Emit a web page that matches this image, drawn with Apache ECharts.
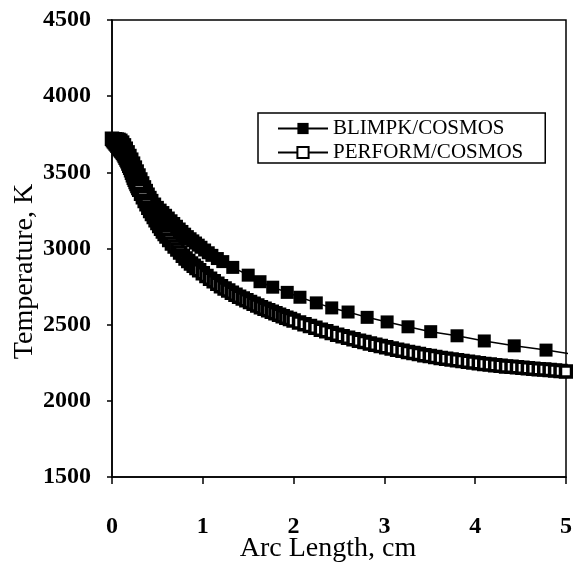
<!DOCTYPE html>
<html>
<head>
<meta charset="utf-8">
<script src="https://cdn.jsdelivr.net/npm/echarts@6/dist/echarts.min.js"></script>
<style>
html,body{margin:0;padding:0;background:#fff;}
#chart{width:573px;height:564px;}
</style>
</head>
<body>
<div id="chart"></div>
<script>
// ---- data ----
const seriesNames = ['BLIMPK/COSMOS', 'PERFORM/COSMOS'];
const xTicks = [0, 1, 2, 3, 4, 5];
const yTicks = [1500, 2000, 2500, 3000, 3500, 4000, 4500];

const blimpkX = [0.00,0.02,0.04,0.06,0.08,0.10,0.12,0.14,0.16,0.18,0.20,0.22,0.24,0.26,0.28,0.30,0.32,0.34,0.36,0.38,0.40,0.42,0.44,0.47,0.50,0.53,0.56,0.59,0.62,0.65,0.68,0.71,0.74,0.77,0.80,0.83,0.86,0.89,0.92,0.95,0.98,1.02,1.06,1.10,1.16,1.22,1.33,1.50,1.63,1.77,1.93,2.07,2.25,2.42,2.60,2.81,3.03,3.26,3.51,3.80,4.10,4.43,4.78,5.15];
const blimpkT = [3720,3722,3722,3720,3718,3712,3700,3682,3660,3636,3612,3588,3562,3536,3510,3484,3458,3432,3406,3382,3358,3336,3316,3292,3270,3252,3236,3218,3200,3182,3164,3146,3128,3112,3094,3078,3064,3050,3036,3022,3008,2990,2972,2955,2934,2914,2876,2825,2782,2746,2712,2680,2643,2610,2583,2548,2518,2486,2454,2427,2393,2361,2333,2298];

const performX = [0.00,0.01,0.02,0.03,0.04,0.05,0.06,0.07,0.08,0.09,0.10,0.11,0.12,0.13,0.14,0.15,0.16,0.17,0.18,0.19,0.20,0.21,0.22,0.23,0.24,0.25,0.26,0.27,0.28,0.29,0.30,0.32,0.34,0.36,0.38,0.40,0.42,0.44,0.46,0.48,0.50,0.52,0.54,0.56,0.58,0.60,0.63,0.66,0.69,0.72,0.75,0.78,0.81,0.84,0.87,0.90,0.93,0.96,1.00,
  1.04,1.08,1.12,1.16,1.20,1.24,1.28,1.32,1.36,1.40,1.44,1.48,1.52,1.56,1.60,1.64,1.68,1.72,1.76,1.80,1.84,1.88,1.92,1.96,2.00,
  2.06,2.12,2.18,2.24,2.30,2.36,2.42,2.48,2.54,2.60,2.66,2.72,2.78,2.84,2.90,2.96,3.02,3.08,3.14,3.20,3.26,3.32,3.38,3.44,3.50,3.56,3.62,3.68,3.74,3.80,3.86,3.92,3.98,4.04,4.10,4.16,4.22,4.28,4.34,4.40,4.46,4.52,4.58,4.64,4.70,4.76,4.82,4.88,4.94,5.00,5.06];
const performT = [3720,3712,3704,3697,3690,3683,3675,3668,3660,3652,3644,3636,3628,3618,3607,3596,3585,3572,3558,3544,3530,3514,3498,3481,3465,3451,3437,3423,3410,3397,3385,3360,3336,3312,3290,3268,3246,3226,3206,3186,3167,3148,3130,3112,3095,3078,3055,3033,3013,2993,2973,2953,2934,2918,2902,2887,2872,2858,2838,
  2820,2802,2785,2768,2752,2738,2724,2710,2697,2684,2672,2660,2648,2637,2626,2615,2605,2595,2585,2575,2565,2555,2546,2537,2528,
  2515,2503,2491,2479,2467,2456,2445,2434,2424,2414,2404,2395,2386,2377,2368,2360,2352,2344,2336,2328,2321,2314,2307,2300,2294,2288,2282,2276,2271,2266,2261,2256,2251,2246,2242,2238,2234,2230,2226,2223,2220,2217,2214,2211,2208,2205,2202,2199,2196,2193,2190];

function pairs(xs, ys){ return xs.map((x,i)=>[x, ys[i]]); }
function plain(v){ return String(v); }

const FONT = 'Liberation Serif';
const chart = echarts.init(document.getElementById('chart'), null, {renderer:'canvas'});
chart.setOption({
  animation: false,
  backgroundColor: '#fff',
  grid: { left: 112, right: 7, top: 20, bottom: 87, show: true, borderColor: '#000', borderWidth: 1.5, containLabel: false, outerBoundsMode: 'none' },
  legend: {
    orient: 'vertical', left: 258, top: 113,
    data: seriesNames,
    borderColor: '#000', borderWidth: 1.5, borderRadius: 0,
    padding: [5, 22, 0, 19],
    itemWidth: 50, itemHeight: 14, itemGap: 3,
    textStyle: { fontFamily: FONT, fontSize: 21, color: '#000' }
  },
  xAxis: {
    type: 'value', min: xTicks[0], max: xTicks[xTicks.length-1], interval: 1,
    name: 'Arc Length, cm', nameLocation: 'middle', nameGap: 58, nameMoveOverlap: false,
    nameTextStyle: { fontFamily: FONT, fontSize: 28, color: '#000', padding: [0, 22, 0, 0] },
    axisLine: { lineStyle: { color: '#000', width: 1.5 } },
    axisTick: { inside: false, length: 7, lineStyle: { color: '#000', width: 1.5 } },
    axisLabel: { margin: 38, fontFamily: FONT, fontSize: 24, fontWeight: 'bold', color: '#000', formatter: plain },
    splitLine: { show: false }
  },
  yAxis: {
    type: 'value', min: yTicks[0], max: yTicks[yTicks.length-1], interval: 500,
    name: 'Temperature, K', nameLocation: 'middle', nameGap: 73, nameMoveOverlap: false,
    nameTextStyle: { fontFamily: FONT, fontSize: 28, color: '#000', padding: [0, 46, 0, 0] },
    axisLine: { lineStyle: { color: '#000', width: 1.5 } },
    axisTick: { inside: false, length: 5, lineStyle: { color: '#000', width: 1.5 } },
    axisLabel: { margin: 21, fontFamily: FONT, fontSize: 24, fontWeight: 'bold', color: '#000', formatter: plain },
    splitLine: { show: false }
  },
  series: [
    {
      name: seriesNames[0], type: 'line', data: pairs(blimpkX, blimpkT),
      symbol: 'rect', symbolSize: 13, showAllSymbol: true, clip: true,
      itemStyle: { color: '#000', borderColor: '#000', borderWidth: 0 },
      lineStyle: { color: '#000', width: 1.5 }, z: 2
    },
    {
      name: seriesNames[1], type: 'line', data: pairs(performX, performT),
      symbol: 'rect', symbolSize: 11, showAllSymbol: true, clip: true,
      itemStyle: { color: '#fff', borderColor: '#000', borderWidth: 3.5 },
      lineStyle: { color: '#000', width: 1.5 }, z: 3
    }
  ]
});
</script>
</body>
</html>
